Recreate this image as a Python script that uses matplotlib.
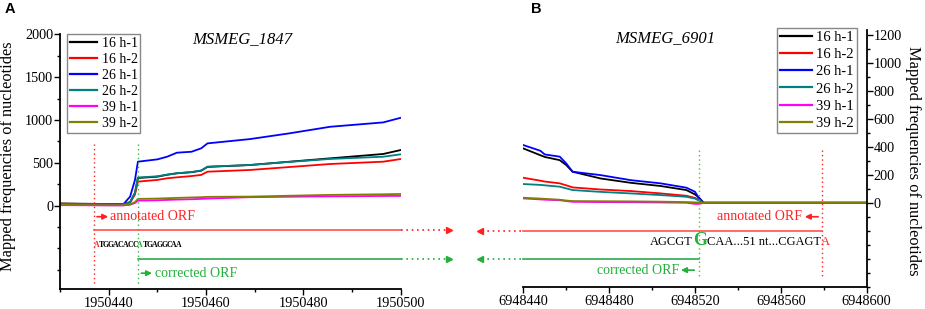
import numpy as np
import matplotlib
matplotlib.use("Agg")
import matplotlib.pyplot as plt
from matplotlib.ticker import MultipleLocator, FormatStrFormatter

plt.rcParams['font.family'] = ['Liberation Serif', 'DejaVu Serif']

labels = ["16 h-1", "16 h-2", "26 h-1", "26 h-2", "39 h-1", "39 h-2"]
colors = ["#000000", "#ff0000", "#0000ff", "#008080", "#ff00ff", "#808000"]

# panel A: MSMEG_1847 coverage
pos_a = [1950430, 1950440, 1950443, 1950444.4, 1950445.4, 1950446, 1950450, 1950452,
         1950454, 1950457, 1950459, 1950460.3, 1950469, 1950477, 1950485.5, 1950496.4, 1950500]
cov_a = {
    "16 h-1": [25, 18, 18, 40, 150, 322, 338, 360, 377, 390, 408, 452, 474, 512, 552, 603, 649],
    "16 h-2": [22, 15, 15, 35, 130, 280, 300, 319, 330, 345, 358, 396, 416, 450, 486, 513, 544],
    "26 h-1": [15, 12, 15, 105, 300, 513, 540, 571, 618, 629, 669, 727, 777, 843, 921, 972, 1026],
    "26 h-2": [20, 16, 16, 40, 150, 328, 342, 362, 378, 392, 410, 455, 474, 510, 545, 571, 599],
    "39 h-1": [5, 2, 2, 10, 30, 58, 62, 66, 70, 74, 78, 82, 98, 103, 108, 112, 113],
    "39 h-2": [8, 4, 4, 15, 40, 78, 82, 86, 90, 95, 98, 102, 105, 115, 125, 132, 136],
}
seq_a = "ATGGACACCATGAGGCAA"
orf_a_annotated = 1950437
orf_a_corrected = 1950446

# panel B: MSMEG_6901 coverage
pos_b = [6948440, 6948448, 6948450, 6948457, 6948460, 6948463, 6948476, 6948490,
         6948504, 6948516, 6948520, 6948522, 6948524, 6948600]
cov_b = {
    "16 h-1": [389, 340, 328, 305, 270, 222, 174, 143, 120, 91, 60, 35, 0, 0],
    "16 h-2": [179, 158, 152, 139, 125, 110, 95, 84, 67, 50, 35, 20, 0, 0],
    "26 h-1": [413, 372, 346, 330, 282, 222, 198, 162, 139, 108, 79, 31, 0, 0],
    "26 h-2": [134, 128, 125, 115, 103, 91, 78, 67, 55, 43, 30, 15, 0, 0],
    "39 h-1": [31, 24, 22, 18, 12, 7, 5, 4, 2, 0, -8, -8, 0, 0],
    "39 h-2": [36, 30, 28, 22, 16, 12, 11, 10, 8, 5, 3, 2, 0, 0],
}
orf_b_annotated = 6948579
orf_b_corrected = 6948522

RED = "#ff2020"
GREEN = "#22b03a"
LRED = "#ff5050"
LGREEN = "#30a850"
DOT = (0, (1, 2.2))

fig = plt.figure(figsize=(9.25, 3.09), dpi=100)
ax1 = fig.add_axes([0.0649, 0.0647, 0.3683, 0.8252])
ax2 = fig.add_axes([0.5657, 0.0702, 0.3712, 0.8343])

for ax in (ax1, ax2):
    ax.spines['top'].set_visible(False)
    ax.tick_params(which='both', direction='out', labelsize=10.3, width=1)
    ax.tick_params(which='major', length=4)
    ax.tick_params(which='minor', length=2.5)
    ax.tick_params(axis='x', pad=1.5)
    ax.tick_params(axis='y', pad=1)
    ax.xaxis.set_major_formatter(FormatStrFormatter('%d'))
    for s in ax.spines.values():
        s.set_linewidth(1.3)

# ---------- A ----------
for lab, c in zip(labels, colors):
    ax1.plot(pos_a, cov_a[lab], color=c, lw=1.3, label=lab)
ax1.spines['right'].set_visible(False)
ax1.set_xlim(1950430, 1950500)
ax1.set_ylim(-975, 2005)
ax1.set_yticks([0, 500, 1000, 1500, 2000])
ax1.yaxis.set_minor_locator(MultipleLocator(250))
ax1.set_xticks([1950440, 1950460, 1950480, 1950500])
ax1.xaxis.set_minor_locator(MultipleLocator(10))
ax1.set_ylabel("Mapped frequencies of nucleotides", fontsize=11.8)
ax1.yaxis.set_label_coords(-0.13, 0.52)
ax1.text(0.536, 0.963, "MSMEG_1847", transform=ax1.transAxes, fontsize=12,
         style='italic', ha='center', va='baseline')

for x, c in ((orf_a_annotated, RED), (orf_a_corrected, "#33bb44")):
    ax1.plot([x, x], [720, -935], ls=DOT, color=c, lw=1)

ax1.annotate("", xy=(orf_a_annotated + 2.9, -130), xytext=(orf_a_annotated + 0.6, -130),
             arrowprops=dict(arrowstyle="-|>", color=RED, lw=1.2, mutation_scale=8,
                             shrinkA=0, shrinkB=0))
ax1.text(orf_a_annotated + 3.3, -130, "annotated ORF", color=RED, fontsize=10,
         va='center', ha='left')
ax1.plot([orf_a_annotated, 1950500], [-290, -290], color=LRED, lw=1.2, clip_on=False)
ax1.plot([1950500, 1950509.5], [-290, -290], color=RED, lw=1.2, ls=DOT, clip_on=False)
ax1.plot([1950510], [-290], marker='>', ms=5, color=RED, clip_on=False)

for i, ch in enumerate(seq_a):
    c = "black"
    if i == 0:
        c = RED
    elif orf_a_annotated + i == orf_a_corrected:
        c = GREEN
    ax1.text(orf_a_annotated + i + 0.45, -460, ch, color=c, fontsize=5.6,
             fontweight='bold', ha='center', va='center')

ax1.plot([orf_a_corrected, 1950500], [-625, -625], color=LGREEN, lw=1.2, clip_on=False)
ax1.plot([1950500, 1950509.5], [-625, -625], color=GREEN, lw=1.2, ls=DOT, clip_on=False)
ax1.plot([1950510], [-625], marker='>', ms=5, color=GREEN, clip_on=False)
ax1.annotate("", xy=(orf_a_corrected + 2.9, -790), xytext=(orf_a_corrected + 0.7, -790),
             arrowprops=dict(arrowstyle="-|>", color=GREEN, lw=1.2, mutation_scale=8,
                             shrinkA=0, shrinkB=0))
ax1.text(orf_a_corrected + 3.5, -790, "corrected ORF", color=GREEN, fontsize=10,
         va='center', ha='left')

leg1 = ax1.legend(loc='upper left', bbox_to_anchor=(0.02, 1.0), borderaxespad=0,
                  fontsize=10, handlelength=2.0, handletextpad=0.3,
                  labelspacing=0.22, borderpad=0.2, fancybox=False, framealpha=1)
leg1.get_frame().set_edgecolor('#888888')
leg1.get_frame().set_linewidth(1)
for l in leg1.get_lines():
    l.set_linewidth(1.6)

# ---------- B ----------
for lab, c in zip(labels, colors):
    ax2.plot(pos_b, cov_b[lab], color=c, lw=1.3, label=lab)
ax2.spines['left'].set_visible(False)
ax2.set_xlim(6948440, 6948600)
ax2.set_ylim(-605, 1240)
ax2.yaxis.tick_right()
ax2.yaxis.set_label_position('right')
ax2.set_yticks([0, 200, 400, 600, 800, 1000, 1200])
ax2.yaxis.set_minor_locator(MultipleLocator(100))
ax2.set_xticks([6948440, 6948480, 6948520, 6948560, 6948600])
ax2.xaxis.set_minor_locator(MultipleLocator(20))
ax2.set_ylabel("Mapped frequencies of nucleotides", fontsize=11.8, rotation=270)
ax2.yaxis.label.set_va('bottom')
ax2.yaxis.set_label_coords(1.113, 0.49)
ax2.text(0.414, 0.95, "MSMEG_6901", transform=ax2.transAxes, fontsize=12,
         style='italic', ha='center', va='baseline')

for x, c in ((orf_b_corrected, "#66bb22"), (orf_b_annotated, RED)):
    ax2.plot([x, x], [377, -540], ls=DOT, color=c, lw=1)

ax2.text(orf_b_annotated - 9.3, -100, "annotated ORF", color=RED, fontsize=10,
         va='center', ha='right')
ax2.annotate("", xy=(orf_b_annotated - 7.8, -100), xytext=(orf_b_annotated - 1.6, -100),
             arrowprops=dict(arrowstyle="-|>", color=RED, lw=1.2, mutation_scale=8,
                             shrinkA=0, shrinkB=0))
ax2.plot([6948440, orf_b_annotated], [-203, -203], color=LRED, lw=1.2, clip_on=False)
ax2.plot([6948421, 6948440], [-203, -203], color=RED, lw=1.2, ls=DOT, clip_on=False)
ax2.plot([6948420], [-203], marker='<', ms=5, color=RED, clip_on=False)

g = ax2.text(orf_b_corrected + 0.3, -303, "G", color=GREEN, fontsize=13, fontweight='bold',
             ha='center', va='baseline')
ax2.annotate("AGCGT", xy=(0, -303), xycoords=(g, 'data'),
             fontsize=9, ha='right', va='baseline')
mid = ax2.annotate("CAA...51 nt...CGAGT", xy=(1, -303), xycoords=(g, 'data'),
                   fontsize=9, ha='left', va='baseline')
ax2.annotate("A", xy=(1, -303), xycoords=(mid, 'data'), fontsize=9, color=RED,
             ha='left', va='baseline')

ax2.plot([6948440, orf_b_corrected], [-403, -403], color=LGREEN, lw=1.2, clip_on=False)
ax2.plot([6948421, 6948440], [-403, -403], color=GREEN, lw=1.2, ls=DOT, clip_on=False)
ax2.plot([6948420], [-403], marker='<', ms=5, color=GREEN, clip_on=False)
ax2.text(orf_b_corrected - 9.5, -482, "corrected ORF", color=GREEN, fontsize=10,
         va='center', ha='right')
ax2.annotate("", xy=(orf_b_corrected - 8.5, -482), xytext=(orf_b_corrected - 2.3, -482),
             arrowprops=dict(arrowstyle="-|>", color=GREEN, lw=1.2, mutation_scale=8,
                             shrinkA=0, shrinkB=0))

leg2 = ax2.legend(loc='upper right', bbox_to_anchor=(0.971, 1.006), borderaxespad=0,
                  fontsize=10.5, handlelength=2.2, handletextpad=0.3,
                  labelspacing=0.27, borderpad=0.2, fancybox=False, framealpha=1)
leg2.get_frame().set_edgecolor('#888888')
leg2.get_frame().set_linewidth(1)
for l in leg2.get_lines():
    l.set_linewidth(1.6)

fig.text(5 / 925, 1 - 9 / 309, "A", fontsize=10.5, fontweight='bold',
         family='Liberation Sans', ha='left', va='center')
fig.text(531 / 925, 1 - 9 / 309, "B", fontsize=10.5, fontweight='bold',
         family='Liberation Sans', ha='left', va='center')

fig.savefig("out.png", dpi=100)
